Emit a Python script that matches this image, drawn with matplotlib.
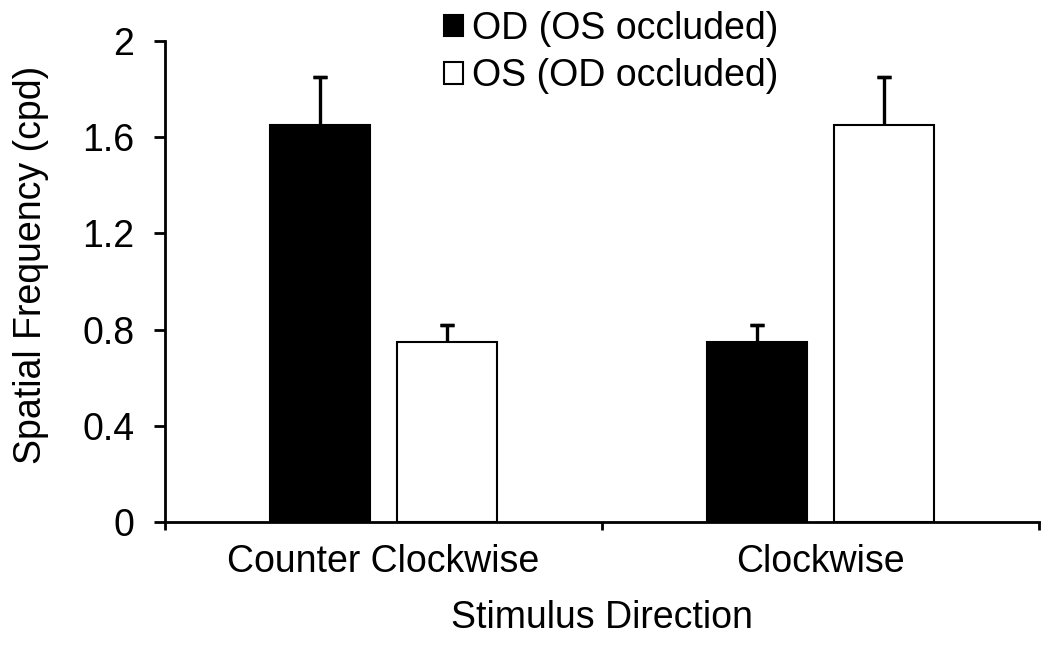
import matplotlib
matplotlib.use("Agg")
import matplotlib.pyplot as plt
import numpy as np
from matplotlib.patches import Patch

plt.rcParams['font.family'] = ['Liberation Sans', 'DejaVu Sans']

# data
categories = ["Counter Clockwise", "Clockwise"]
od_values = [1.65, 0.75]
od_errors = [0.20, 0.07]
os_values = [0.75, 1.65]
os_errors = [0.07, 0.20]
series_labels = ["OD (OS occluded)", "OS (OD occluded)"]
yticks = [0, 0.4, 0.8, 1.2, 1.6, 2.0]
ytick_labels = ["0", "0.4", "0.8", "1.2", "1.6", "2"]

FS = 27
bar_w = 0.23
offset = 0.145


def upper_errorbar(ax, xs, tops, errs):
    # only the upper half of the error bar, capped
    tops = np.asarray(tops)
    errs = np.asarray(errs)
    zero = np.zeros(len(errs))
    ax.errorbar(xs, tops, yerr=[zero, errs], fmt="none", ecolor="black",
                elinewidth=2.4, capsize=0)
    ax.errorbar(xs, tops + errs, yerr=[zero, zero], fmt="none", ecolor="black",
                elinewidth=2.4, capsize=5, capthick=2.4)


fig = plt.figure(figsize=(10.5, 6.52), dpi=100)
ax = fig.add_axes([165 / 1050, 1 - 522 / 652, (1039 - 165) / 1050, (522 - 41) / 652])

x = np.arange(len(categories))
ax.bar(x - offset, od_values, bar_w, color="black", edgecolor="black", linewidth=1.5,
       label=series_labels[0])
ax.bar(x + offset, os_values, bar_w, color="white", edgecolor="black", linewidth=1.5,
       label=series_labels[1])
upper_errorbar(ax, x - offset, od_values, od_errors)
upper_errorbar(ax, x + offset, os_values, os_errors)

ax.set_xlim(-0.5, len(categories) - 0.5)
ax.set_ylim(0, 2)
ax.set_yticks(yticks)
ax.set_yticklabels(ytick_labels, fontsize=FS)
ax.set_xticks(x)
ax.set_xticklabels(categories, fontsize=FS)
ax.tick_params(axis="x", which="major", length=0, pad=16)
ax.set_xticks(np.arange(-0.5, len(categories)), minor=True)
ax.tick_params(axis="x", which="minor", length=6, width=2, direction="out")
ax.tick_params(axis="y", length=8, width=2, direction="out", pad=14)

for s in ["top", "right"]:
    ax.spines[s].set_visible(False)
for s in ["left", "bottom"]:
    ax.spines[s].set_linewidth(2)

ax.set_xlabel("Stimulus Direction", fontsize=FS, labelpad=14)
ax.set_ylabel("Spatial Frequency (cpd)", fontsize=FS)
ax.yaxis.set_label_coords(-0.133, 0.535)

handles = [Patch(facecolor="black", edgecolor="black", linewidth=1.5),
           Patch(facecolor="white", edgecolor="black", linewidth=1.5)]
fig.legend(handles, series_labels, loc="upper left", bbox_to_anchor=(410 / 1050, 1.035),
           frameon=False, fontsize=FS, handlelength=0.5, handleheight=0.5,
           handletextpad=0.25, labelspacing=0.3)

fig.savefig("out.png", dpi=100)
